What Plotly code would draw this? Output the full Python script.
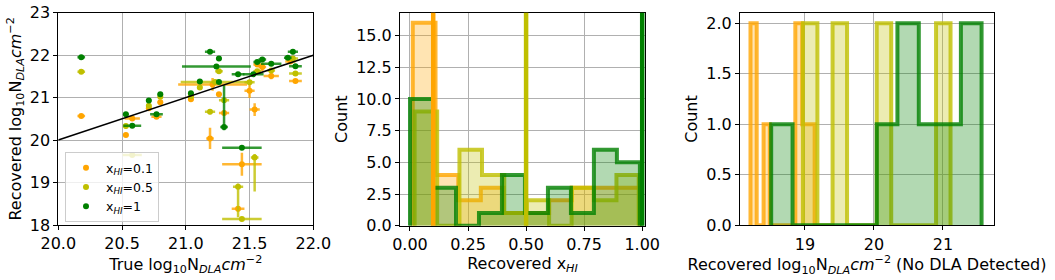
import plotly.graph_objects as go

# ---------------- data ----------------
series_names = ["x<sub><i>HI</i></sub>=0.1", "x<sub><i>HI</i></sub>=0.5", "x<sub><i>HI</i></sub>=1"]
xhi_true = [0.1, 0.5, 1.0]

# scatter: true vs recovered log10 N_DLA
o_x = [20.18, 20.53, 20.58, 20.71, 20.77, 20.80, 21.04, 21.21, 21.19, 21.26, 21.30, 21.50, 21.54, 21.56, 21.60, 21.67, 21.82, 21.86, 21.44, 21.41]
o_y = [20.57, 20.12, 20.51, 20.75, 20.55, 20.89, 20.96, 21.31, 20.04, 21.08, 20.64, 21.16, 20.72, 21.78, 21.72, 21.51, 21.85, 21.39, 19.43, 18.38]
o_xerr = [0.03, 0.02, 0.06, 0.02, 0.04, 0.02, 0.02, 0.27, 0.03, 0.02, 0.04, 0.04, 0.04, 0.03, 0.03, 0.06, 0.04, 0.05, 0.155, 0.05]
o_yerr_p = [0.03, 0.05, 0.04, 0.04, 0.04, 0.04, 0.03, 0.15, 0.25, 0.05, 0.05, 0.17, 0.15, 0.05, 0.10, 0.08, 0.05, 0.03, 0.27, 0.06]
o_yerr_m = [0.03, 0.05, 0.04, 0.04, 0.04, 0.04, 0.03, 0.15, 0.25, 0.05, 0.05, 0.17, 0.15, 0.05, 0.10, 0.08, 0.05, 0.03, 0.27, 0.06]

y_x = [20.18, 20.53, 20.58, 20.71, 20.80, 21.04, 21.11, 21.23, 21.19, 21.26, 21.30, 21.50, 21.56, 21.67, 21.84, 21.86, 21.54, 21.41, 21.44]
y_y = [21.61, 20.33, 19.65, 20.81, 21.02, 21.03, 21.24, 21.37, 20.67, 21.62, 20.94, 21.36, 21.62, 21.64, 21.92, 21.57, 19.59, 18.90, 18.14]
y_xerr = [0.03, 0.02, 0.075, 0.02, 0.02, 0.02, 0.02, 0.27, 0.04, 0.03, 0.04, 0.04, 0.03, 0.03, 0.04, 0.05, 0.03, 0.04, 0.155]
y_yerr_p = [0.03, 0.06, 0.03, 0.05, 0.04, 0.03, 0.04, 0.05, 0.06, 0.05, 0.05, 0.05, 0.05, 0.04, 0.04, 0.03, 0.08, 0.08, 0.05]
y_yerr_m = [0.03, 0.06, 0.03, 0.05, 0.04, 0.03, 0.04, 0.05, 0.06, 0.05, 0.05, 0.05, 0.05, 0.04, 0.04, 0.03, 0.80, 0.72, 0.05]

g_x = [20.18, 20.53, 20.58, 20.71, 20.77, 20.80, 21.04, 21.11, 21.19, 21.26, 21.24, 21.26, 21.30, 21.41, 21.53, 21.56, 21.60, 21.67, 21.80, 21.84, 21.86, 21.44]
g_y = [21.95, 20.61, 20.34, 20.93, 20.61, 21.08, 21.10, 21.38, 22.08, 21.92, 21.73, 21.37, 20.31, 21.55, 21.55, 21.84, 21.90, 21.80, 21.94, 22.08, 21.74, 19.82]
g_xerr = [0.03, 0.02, 0.07, 0.02, 0.05, 0.02, 0.02, 0.02, 0.04, 0.02, 0.27, 0.02, 0.03, 0.05, 0.08, 0.03, 0.03, 0.08, 0.03, 0.04, 0.05, 0.155]
g_yerr_p = [0.03, 0.03, 0.04, 0.04, 0.05, 0.04, 0.03, 0.03, 0.04, 0.03, 0.05, 0.03, 0.98, 0.05, 0.05, 0.04, 0.05, 0.05, 0.04, 0.06, 0.03, 0.03]
g_yerr_m = [0.03, 0.03, 0.04, 0.04, 0.05, 0.04, 0.03, 0.03, 0.04, 0.03, 0.05, 0.03, 0.08, 0.05, 0.05, 0.04, 0.05, 0.05, 0.04, 0.06, 0.03, 0.03]

# histogram of recovered x_HI (bin edges and counts per series)
xhi_edges_o = [0.012, 0.110, 0.208, 0.305, 0.403, 0.501, 0.599, 0.697, 0.794, 0.892, 0.990]
xhi_counts_o = [16, 4, 2, 3, 1, 1, 2, 3, 3, 3]
xhi_edges_y = [0.020, 0.117, 0.213, 0.310, 0.406, 0.503, 0.599, 0.696, 0.792, 0.889, 0.985]
xhi_counts_y = [9, 0, 6, 4, 1, 2, 0, 3, 2, 4]
xhi_edges_g = [0.000, 0.099, 0.198, 0.297, 0.396, 0.495, 0.594, 0.693, 0.792, 0.891, 0.990]
xhi_counts_g = [10, 3, 0, 1, 4, 1, 3, 1, 6, 5]

# histogram of recovered log10 N_DLA where no DLA detected
n_edges_o = [18.21, 18.30, 18.40, 18.49, 18.58, 18.68, 18.77, 18.86, 18.96, 19.05, 19.14]
n_counts_o = [2, 0, 1, 0, 0, 0, 0, 2, 1, 1]
n_edges_y = [18.97, 19.18, 19.40, 19.61, 19.83, 20.04, 20.25, 20.47, 20.68, 20.90, 21.11]
n_counts_y = [2, 0, 2, 0, 0, 2, 0, 0, 0, 2]
n_edges_g = [18.51, 18.82, 19.12, 19.43, 19.73, 20.04, 20.34, 20.65, 20.95, 21.26, 21.56]
n_counts_g = [1, 0, 0, 0, 0, 1, 2, 1, 1, 2]

# ---------------- style ----------------
COLORS = [(255, 165, 0), (191, 191, 0), (0, 128, 0)]
def rgba(c, a):
    return "rgba(%d,%d,%d,%s)" % (c[0], c[1], c[2], a)

FONT = "DejaVu Sans"
W, H = 1055, 280

def dom_x(a, b):
    return [a / W, b / W]

def dom_y(top, bottom):
    return [1 - bottom / H, 1 - top / H]

fig = go.Figure()

# ---- left panel: scatter with error bars ----
scat = [
    (o_x, o_y, o_xerr, o_yerr_p, o_yerr_m),
    (y_x, y_y, y_xerr, y_yerr_p, y_yerr_m),
    (g_x, g_y, g_xerr, g_yerr_p, g_yerr_m),
]
for i, (sx, sy, sxe, sye_p, sye_m) in enumerate(scat):
    c = COLORS[i]
    fig.add_trace(go.Scatter(
        x=sx, y=sy, mode="markers", name=series_names[i],
        marker=dict(color=rgba(c, 1), size=6, line=dict(width=0)),
        error_x=dict(type="data", array=sxe, color=rgba(c, 0.8), thickness=2.5, width=0),
        error_y=dict(type="data", array=sye_p, arrayminus=sye_m, symmetric=False,
                     color=rgba(c, 0.8), thickness=2.5, width=0),
        xaxis="x", yaxis="y", showlegend=True,
    ))

fig.add_trace(go.Scatter(x=[20, 22], y=[20, 22], mode="lines",
                         line=dict(color="black", width=1.6), showlegend=False,
                         xaxis="x", yaxis="y"))

# ---- step histograms ----
def step_path(edges, counts):
    xs, ys = [edges[0]], [0]
    for j, cnt in enumerate(counts):
        xs += [edges[j], edges[j + 1]]
        ys += [cnt, cnt]
    xs.append(edges[-1]); ys.append(0)
    return xs, ys

mid = [(xhi_edges_o, xhi_counts_o), (xhi_edges_y, xhi_counts_y), (xhi_edges_g, xhi_counts_g)]
for i, (e, cnt) in enumerate(mid):
    xs, ys = step_path(e, cnt)
    c = COLORS[i]
    fig.add_trace(go.Scatter(x=xs, y=ys, mode="lines", fill="toself",
                             fillcolor=rgba(c, 0.3), line=dict(color=rgba(c, 0.8), width=4),
                             showlegend=False, xaxis="x2", yaxis="y2"))

right = [(n_edges_o, n_counts_o), (n_edges_y, n_counts_y), (n_edges_g, n_counts_g)]
for i, (e, cnt) in enumerate(right):
    xs, ys = step_path(e, cnt)
    c = COLORS[i]
    fig.add_trace(go.Scatter(x=xs, y=ys, mode="lines", fill="toself",
                             fillcolor=rgba(c, 0.3), line=dict(color=rgba(c, 0.8), width=4),
                             showlegend=False, xaxis="x3", yaxis="y3"))

# vertical lines at true x_HI
shapes = []
for i, v in enumerate(xhi_true):
    shapes.append(dict(type="line", xref="x2", yref="y2 domain", x0=v, x1=v, y0=0, y1=1,
                       line=dict(color=rgba(COLORS[i], 1), width=4.5)))

axis_common = dict(showline=True, linecolor="black", linewidth=1, mirror=True,
                   showgrid=True, gridcolor="#b0b0b0", gridwidth=1,
                   ticks="outside", ticklen=4, tickcolor="black", automargin=False,
                   tickfont=dict(family=FONT, size=16, color="black"), zeroline=False)
title_font = dict(family=FONT, size=16, color="black")

fig.update_layout(
    width=W, height=H, margin=dict(l=0, r=0, t=0, b=0, autoexpand=False),
    paper_bgcolor="white", plot_bgcolor="white",
    font=dict(family=FONT, color="black"),
    shapes=shapes,
    xaxis=dict(domain=dom_x(58.3, 313.3), range=[20, 22], tickvals=[20, 20.5, 21, 21.5, 22],
               ticktext=["20.0", "20.5", "21.0", "21.5", "22.0"], anchor="y",
               title=dict(text="True log<sub>10</sub>N<sub><i>DLA</i></sub><i>cm</i><sup>−2</sup>", font=title_font, standoff=4),
               **axis_common),
    yaxis=dict(domain=dom_y(12.7, 225), range=[18, 23], tickvals=[18, 19, 20, 21, 22, 23], anchor="x",
               title=dict(text="Recovered log<sub>10</sub>N<sub><i>DLA</i></sub><i>cm</i><sup>−2</sup>", font=title_font, standoff=4),
               **axis_common),
    xaxis2=dict(domain=dom_x(400, 645), range=[-0.043, 1.012], tickvals=[0, 0.25, 0.5, 0.75, 1.0],
                ticktext=["0.00", "0.25", "0.50", "0.75", "1.00"], anchor="y2",
                title=dict(text="Recovered x<sub><i>HI</i></sub>", font=title_font, standoff=4),
                **axis_common),
    yaxis2=dict(domain=dom_y(12.7, 225.7), range=[0, 16.8], tickvals=[0, 2.5, 5, 7.5, 10, 12.5, 15],
                ticktext=["0.0", "2.5", "5.0", "7.5", "10.0", "12.5", "15.0"], anchor="x2",
                title=dict(text="Count", font=title_font, standoff=4),
                **axis_common),
    xaxis3=dict(domain=dom_x(740, 994), range=[18.058, 21.74], tickvals=[19, 20, 21], anchor="y3",
                title=dict(text="Recovered log<sub>10</sub>N<sub><i>DLA</i></sub><i>cm</i><sup>−2</sup> (No DLA Detected)", font=title_font, standoff=4),
                **axis_common),
    yaxis3=dict(domain=dom_y(12.7, 225.3), range=[0, 2.105], tickvals=[0, 0.5, 1, 1.5, 2],
                ticktext=["0.0", "0.5", "1.0", "1.5", "2.0"], anchor="x3",
                title=dict(text="Count", font=title_font, standoff=4),
                **axis_common),
    legend=dict(x=65 / W, y=1 - 152 / H, xanchor="left", yanchor="top",
                bgcolor="rgba(255,255,255,0.8)", bordercolor="#cccccc", borderwidth=1,
                font=dict(family=FONT, size=12.5, color="black"), itemsizing="trace"),
)

fig.write_html("out.html", post_script="document.body.style.margin='0';",
               config={"displayModeBar": False})
